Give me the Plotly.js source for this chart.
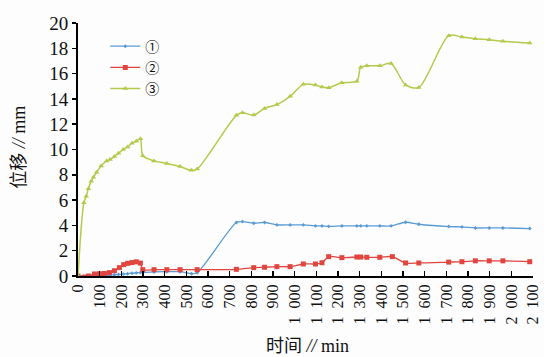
<!DOCTYPE html>
<html>
<head>
<meta charset="utf-8">
<script src="https://cdn.plot.ly/plotly-3.0.1.min.js"></script>
<style>
html,body{margin:0;padding:0;background:#fdfdfd;}
#chart{width:544px;height:357px;}
</style>
</head>
<body>
<div id="chart"></div>
<script>
// Time (min) for series ① and ③
var tMain = [0, 27, 38, 48, 61, 71, 86, 107, 132, 148, 168, 187, 209, 229, 249, 269, 288, 299, 351, 410, 471, 524, 550, 731, 759, 811, 861, 918, 979, 1040, 1096, 1126, 1157, 1218, 1287, 1305, 1333, 1393, 1445, 1512, 1573, 1711, 1772, 1834, 1898, 1961, 2085];
// Series ③ displacement (mm)
var s3 = [0, 5.8, 6.3, 6.9, 7.5, 7.8, 8.2, 8.7, 9.1, 9.2, 9.45, 9.7, 10.0, 10.2, 10.5, 10.65, 10.85, 9.5, 9.1, 8.9, 8.65, 8.35, 8.45, 12.7, 12.9, 12.72, 13.25, 13.55, 14.2, 15.15, 15.1, 14.94, 14.88, 15.28, 15.4, 16.5, 16.62, 16.62, 16.8, 15.1, 14.9, 19.0, 18.9, 18.76, 18.68, 18.55, 18.42];
// Series ① displacement (mm)
var s1 = [0, 0, 0, 0, 0, 0.02, 0.03, 0.05, 0.05, 0.08, 0.1, 0.12, 0.15, 0.18, 0.22, 0.25, 0.27, 0.28, 0.32, 0.34, 0.34, 0.18, 0.26, 4.23, 4.3, 4.17, 4.23, 4.04, 4.04, 4.04, 3.96, 3.96, 3.92, 3.96, 3.96, 3.96, 3.96, 3.96, 3.96, 4.25, 4.09, 3.91, 3.88, 3.8, 3.8, 3.8, 3.75];
// Time (min) for series ②
var tRed = [0, 27, 48, 76, 99, 122, 145, 168, 191, 211, 229, 249, 269, 288, 299, 351, 410, 471, 550, 731, 811, 861, 918, 979, 1040, 1096, 1126, 1157, 1218, 1287, 1305, 1333, 1393, 1451, 1512, 1573, 1711, 1772, 1834, 1898, 1961, 2085];
// Series ② displacement (mm)
var s2 = [0, -0.1, 0.0, 0.16, 0.18, 0.2, 0.27, 0.42, 0.66, 0.9, 1.0, 1.06, 1.12, 1.02, 0.5, 0.5, 0.5, 0.5, 0.5, 0.53, 0.66, 0.69, 0.74, 0.74, 0.95, 0.95, 1.05, 1.53, 1.45, 1.5, 1.5, 1.48, 1.48, 1.53, 1.03, 1.03, 1.1, 1.13, 1.2, 1.2, 1.2, 1.13];

var names = ['\u2460', '\u2461', '\u2462'];
var xTickVals = [0,100,200,300,400,500,600,700,800,900,1000,1100,1200,1300,1400,1500,1600,1700,1800,1900,2000,2100];
var xTickText = ['0','100','200','300','400','500','600','700','800','900',
  '1\u00a0\u00a0000','1\u00a0\u00a0100','1\u00a0\u00a0200','1\u00a0\u00a0300','1\u00a0\u00a0400','1\u00a0\u00a0500',
  '1\u00a0\u00a0600','1\u00a0\u00a0700','1\u00a0\u00a0800','1\u00a0\u00a0900','2\u00a0\u00a0000','2\u00a0\u00a0100'];
var yTickVals = [0,2,4,6,8,10,12,14,16,18,20];
var xTitle = '时间 <i>//</i> min';
var yTitle = '位移 <i>//</i> mm';

var serif = '"Liberation Serif", "Times New Roman", "Noto Sans CJK SC", serif';

var traces = [
  {x: tMain, y: s1, name: names[0], mode: 'lines+markers',
   line: {color: '#5b9bd5', width: 1.3, shape: 'spline', smoothing: 0.8},
   marker: {color: '#5b9bd5', size: 3, symbol: 'diamond'}},
  {x: tRed, y: s2, name: names[1], mode: 'lines+markers',
   line: {color: '#e0463f', width: 1.3, shape: 'spline', smoothing: 0.8},
   marker: {color: '#e0463f', size: 5, symbol: 'square'}},
  {x: tMain, y: s3, name: names[2], mode: 'lines+markers',
   line: {color: '#b7c94c', width: 1.5, shape: 'spline', smoothing: 0.8},
   marker: {color: '#b7c94c', size: 5, symbol: 'triangle-up'}}
];

var layout = {
  width: 544, height: 357,
  paper_bgcolor: '#fdfdfd', plot_bgcolor: '#fdfdfd',
  margin: {l: 78, r: 11, t: 23, b: 81},
  showlegend: true,
  legend: {x: 0.06, y: 0.97, xanchor: 'left', yanchor: 'top',
           bgcolor: 'rgba(0,0,0,0)', font: {family: '"Noto Sans CJK SC", "DejaVu Sans", sans-serif', size: 14, color: '#111'},
           tracegroupgap: 0},
  xaxis: {
    range: [0, 2100], tickmode: 'array', tickvals: xTickVals, ticktext: xTickText,
    tickangle: -90, ticks: 'inside', ticklen: 5, tickwidth: 1.5, tickcolor: '#000',
    showline: true, linecolor: '#000', linewidth: 2, showgrid: false, zeroline: false,
    tickfont: {family: serif, size: 16, color: '#111'}
  },
  yaxis: {
    range: [0, 20], tickmode: 'array', tickvals: yTickVals,
    ticks: 'outside', ticklen: 4, tickwidth: 1.5, tickcolor: '#000',
    showline: true, linecolor: '#000', linewidth: 2, showgrid: false, zeroline: false,
    tickfont: {family: serif, size: 19, color: '#111'}
  },
  annotations: [
    {text: xTitle, xref: 'paper', yref: 'paper', x: 0.505, y: -0.277,
     xanchor: 'center', yanchor: 'middle', showarrow: false,
     font: {family: serif, size: 18, color: '#111'}},
    {text: yTitle, xref: 'paper', yref: 'paper', x: -0.13, y: 0.51, textangle: -90,
     xanchor: 'center', yanchor: 'middle', showarrow: false,
     font: {family: serif, size: 18, color: '#111'}}
  ]
};

Plotly.newPlot('chart', traces, layout, {staticPlot: true, displayModeBar: false});
</script>
</body>
</html>
